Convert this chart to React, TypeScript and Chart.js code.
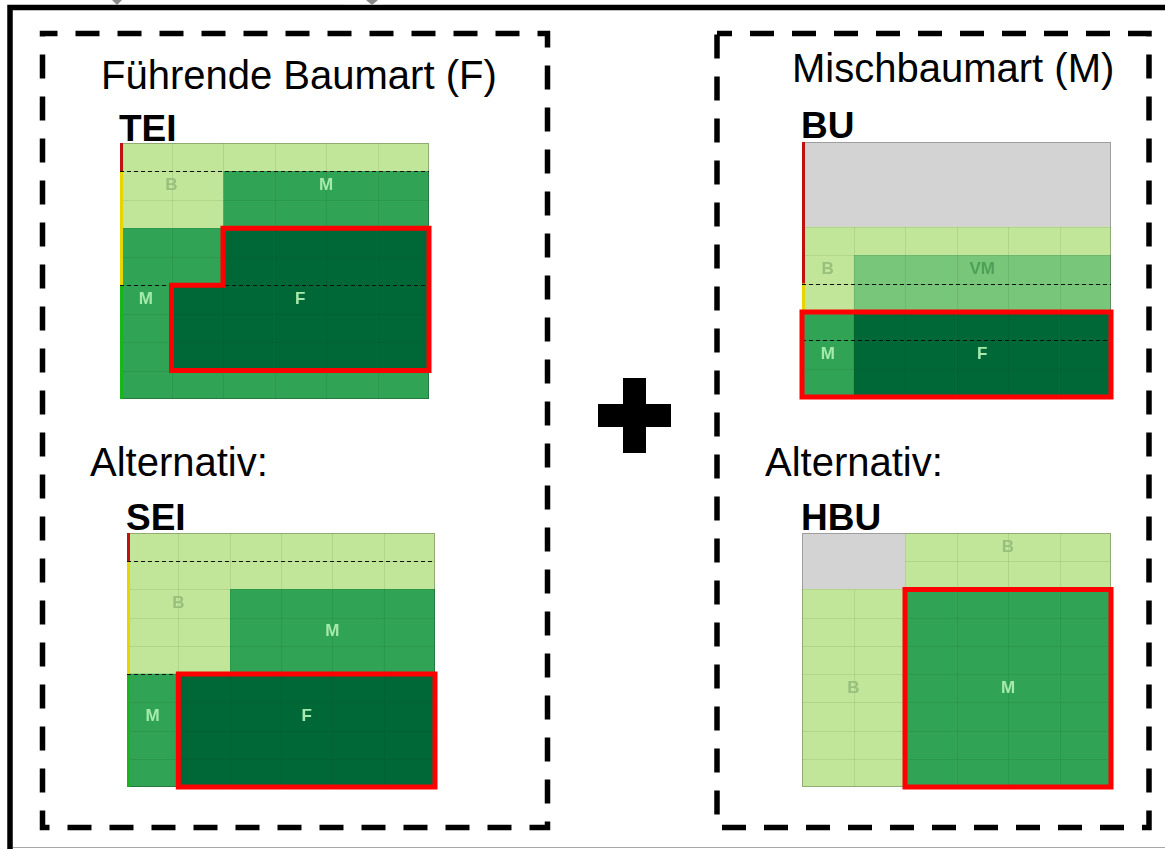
import React, { useEffect, useRef } from 'react';
import { Chart, registerables } from 'chart.js';

Chart.register(...registerables);

// ---------- data ----------
const ROW_LABELS = ['1', '2', '3', '4', '5', '6', '7', '8', '9'];
const COLUMN_LABELS = ['c1', 'c2', 'c3', 'c4', 'c5', 'c6'];
const CELL_UNITS = [1, 1, 1, 1, 1, 1, 1, 1, 1];

// cell codes: B = Begleitbaumart, M = Mischbaumart, F = führend, V = VM, G = leer
const TEI_GRID = ['BBBBBB', 'BBMMMM', 'BBMMMM', 'MMFFFF', 'MMFFFF', 'MFFFFF', 'MFFFFF', 'MFFFFF', 'MMMMMM'];
const SEI_GRID = ['BBBBBB', 'BBBBBB', 'BBMMMM', 'BBMMMM', 'BBMMMM', 'MFFFFF', 'MFFFFF', 'MFFFFF', 'MFFFFF'];
const BU_GRID = ['GGGGGG', 'GGGGGG', 'GGGGGG', 'BBBBBB', 'BVVVVV', 'BVVVVV', 'MFFFFF', 'MFFFFF', 'MFFFFF'];
const HBU_GRID = ['GGBBBB', 'GGBBBB', 'BBMMMM', 'BBMMMM', 'BBMMMM', 'BBMMMM', 'BBMMMM', 'BBMMMM', 'BBMMMM'];

const TEI_LABELS = [
  { text: 'B', col: 1, row: 1 },
  { text: 'M', col: 4, row: 1 },
  { text: 'M', col: 0.5, row: 5 },
  { text: 'F', col: 3.5, row: 5 },
];
const SEI_LABELS = [
  { text: 'B', col: 1, row: 2 },
  { text: 'M', col: 4, row: 3 },
  { text: 'M', col: 0.5, row: 6 },
  { text: 'F', col: 3.5, row: 6 },
];
const BU_LABELS = [
  { text: 'B', col: 0.5, row: 4 },
  { text: 'VM', col: 3.5, row: 4 },
  { text: 'M', col: 0.5, row: 7 },
  { text: 'F', col: 3.5, row: 7 },
];
const HBU_LABELS = [
  { text: 'B', col: 4, row: 0 },
  { text: 'B', col: 1, row: 5 },
  { text: 'M', col: 4, row: 5 },
];

const TEI_DASH_ROWS = [1, 5];
const SEI_DASH_ROWS = [1, 5];
const BU_DASH_ROWS = [5, 7];
const HBU_DASH_ROWS: number[] = [];

const TEI_SIDE = [
  { from: 0, to: 1, code: 'red' },
  { from: 1, to: 5, code: 'yellow' },
  { from: 5, to: 9, code: 'green' },
];
const SEI_SIDE = [
  { from: 0, to: 1, code: 'red' },
  { from: 1, to: 5, code: 'yellow' },
  { from: 5, to: 9, code: 'green' },
];
const BU_SIDE = [
  { from: 0, to: 5, code: 'red' },
  { from: 5, to: 6, code: 'yellow' },
];
const HBU_SIDE: { from: number; to: number; code: string }[] = [];

// outline corners as [column edge, row edge]
const TEI_OUTLINE = [[2, 3], [6, 3], [6, 8], [1, 8], [1, 5], [2, 5]];
const SEI_OUTLINE = [[1, 5], [6, 5], [6, 9], [1, 9]];
const BU_OUTLINE = [[0, 6], [6, 6], [6, 9], [0, 9]];
const HBU_OUTLINE = [[2, 2], [6, 2], [6, 9], [2, 9]];

// ---------- styles ----------
const COLORS: Record<string, string> = { B: '#c2e699', V: '#78c679', M: '#31a354', F: '#006837', G: '#d3d3d3' };
const LABEL_COLORS: Record<string, string> = { B: '#98bf7d', M: '#a6eaab', F: '#a6eaab', VM: '#4e9f58' };
const SIDE_COLORS: Record<string, string> = { red: '#c01010', yellow: '#e6d500', green: '#19b619' };

const PAD = 8;

type Spec = {
  grid: string[];
  labels: { text: string; col: number; row: number }[];
  dashRows: number[];
  side: { from: number; to: number; code: string }[];
  outline: number[][];
  box: { x: number; y: number; w: number; h: number };
};

const PANELS: Spec[] = [
  { grid: TEI_GRID, labels: TEI_LABELS, dashRows: TEI_DASH_ROWS, side: TEI_SIDE, outline: TEI_OUTLINE, box: { x: 120, y: 143, w: 309, h: 256 } },
  { grid: SEI_GRID, labels: SEI_LABELS, dashRows: SEI_DASH_ROWS, side: SEI_SIDE, outline: SEI_OUTLINE, box: { x: 127, y: 533, w: 308, h: 254 } },
  { grid: BU_GRID, labels: BU_LABELS, dashRows: BU_DASH_ROWS, side: BU_SIDE, outline: BU_OUTLINE, box: { x: 802, y: 142, w: 309, h: 255 } },
  { grid: HBU_GRID, labels: HBU_LABELS, dashRows: HBU_DASH_ROWS, side: HBU_SIDE, outline: HBU_OUTLINE, box: { x: 802, y: 533, w: 309, h: 254 } },
];

function Panel({ spec }: { spec: Spec }) {
  const ref = useRef<HTMLCanvasElement | null>(null);
  useEffect(() => {
    if (!ref.current) return;
    const grid = spec.grid;
    const datasets = COLUMN_LABELS.map((name, c) => ({
      label: name,
      data: CELL_UNITS.slice(),
      backgroundColor: grid.map((row) => COLORS[row[c]]),
      borderWidth: 0,
      barPercentage: 1,
      categoryPercentage: 1,
    }));
    const overlay = {
      id: 'overlay',
      afterDatasetsDraw(chart: any) {
        const { ctx, chartArea: a } = chart;
        const x = chart.scales.x;
        const y = chart.scales.y;
        const xp = (c: number) => x.getPixelForValue(c);
        const yEdge = (r: number) => y.getPixelForValue(r - 0.5);
        const isG = (r: number, c: number) => grid[r][c] === 'G';
        ctx.save();
        // faint cell lines (not inside empty grey area)
        ctx.strokeStyle = 'rgba(0,40,0,0.09)';
        ctx.lineWidth = 1;
        ctx.beginPath();
        for (let r = 0; r < grid.length; r++) {
          for (let c = 1; c < 6; c++) {
            if (isG(r, c - 1) && isG(r, c)) continue;
            const xx = Math.round(xp(c)) + 0.5;
            ctx.moveTo(xx, yEdge(r));
            ctx.lineTo(xx, yEdge(r + 1));
          }
        }
        for (let r = 1; r < grid.length; r++) {
          for (let c = 0; c < 6; c++) {
            if (isG(r - 1, c) && isG(r, c)) continue;
            const yy = Math.round(yEdge(r)) + 0.5;
            ctx.moveTo(xp(c), yy);
            ctx.lineTo(xp(c + 1), yy);
          }
        }
        ctx.stroke();
        // outer border
        ctx.strokeStyle = 'rgba(0,0,0,0.25)';
        ctx.strokeRect(a.left + 0.5, a.top + 0.5, a.width - 1, a.height - 1);
        spec.side.forEach((s) => {
          ctx.fillStyle = SIDE_COLORS[s.code];
          ctx.fillRect(a.left, yEdge(s.from), 3, yEdge(s.to) - yEdge(s.from));
        });
        ctx.setLineDash([4, 3]);
        ctx.strokeStyle = '#111';
        ctx.lineWidth = 1;
        spec.dashRows.forEach((r) => {
          const yy = Math.round(yEdge(r)) + 0.5;
          ctx.beginPath();
          ctx.moveTo(a.left, yy);
          ctx.lineTo(a.right, yy);
          ctx.stroke();
        });
        ctx.setLineDash([]);
        ctx.font = 'bold 17px "Liberation Sans", Arial, sans-serif';
        ctx.textAlign = 'center';
        ctx.textBaseline = 'middle';
        spec.labels.forEach((l) => {
          ctx.fillStyle = LABEL_COLORS[l.text];
          ctx.fillText(l.text, xp(l.col), y.getPixelForValue(l.row));
        });
        ctx.strokeStyle = '#ff0000';
        ctx.lineWidth = 5;
        ctx.lineJoin = 'miter';
        ctx.beginPath();
        spec.outline.forEach(([c, r], i) => {
          if (i === 0) ctx.moveTo(xp(c), yEdge(r));
          else ctx.lineTo(xp(c), yEdge(r));
        });
        ctx.closePath();
        ctx.stroke();
        ctx.restore();
      },
    };
    const chart = new Chart(ref.current, {
      type: 'bar',
      data: { labels: ROW_LABELS, datasets: datasets as any },
      options: {
        animation: false,
        responsive: false,
        devicePixelRatio: 1,
        indexAxis: 'y',
        events: [],
        layout: { padding: PAD },
        plugins: { legend: { display: false }, tooltip: { enabled: false } },
        scales: {
          x: { type: 'linear', stacked: true, min: 0, max: 6, display: false },
          y: { type: 'category', stacked: true, display: false, offset: true },
        },
      },
      plugins: [overlay],
    });
    return () => chart.destroy();
  }, [spec]);
  const { x, y, w, h } = spec.box;
  return (
    <div style={{ position: 'absolute', left: x - PAD, top: y - PAD, width: w + 2 * PAD, height: h + 2 * PAD }}>
      <canvas ref={ref} width={w + 2 * PAD} height={h + 2 * PAD} style={{ display: 'block' }} />
    </div>
  );
}

const TITLE_FONT = '"Liberation Sans", Arial, sans-serif';

export default function App() {
  return (
    <div style={{ position: 'fixed', left: 0, top: 0, width: 1165, height: 849, background: '#fff', overflow: 'hidden' }}>
      <svg width={1165} height={849} style={{ position: 'absolute', left: 0, top: 0 }}>
        <rect x={10} y={7.5} width={1300} height={1000} fill="none" stroke="#000" strokeWidth={5.5} />
        <line x1={13} y1={847.5} x2={1165} y2={847.5} stroke="#a8a8a8" strokeWidth={1} />
        <polygon points="112,0 122,0 117,5" fill="#8a8a8a" />
        <line x1={343} y1={4.5} x2={385} y2={4.5} stroke="#c8c8c8" strokeWidth={1} />
        <polygon points="366,0 378,0 372,5" fill="#8a8a8a" />
        <path d="M42.5,33.5 H547.5 V827.5 H42.5 Z" fill="none" stroke="#000" strokeWidth={5.5} strokeDasharray="24 18" strokeDashoffset={9} />
        <path d="M717,33.5 H1149 V827.5 H717 Z" fill="none" stroke="#000" strokeWidth={5.5} strokeDasharray="24 18" strokeDashoffset={9} />
        <rect x={623} y={378} width={23} height={75} fill="#000" />
        <rect x={598} y={404} width={73} height={23} fill="#000" />
        <g fontFamily={TITLE_FONT} fill="#000">
          <text x={101} y={89} fontSize={40}>Führende Baumart (F)</text>
          <text x={792} y={82} fontSize={40}>Mischbaumart (M)</text>
          <text x={90} y={476} fontSize={40}>Alternativ:</text>
          <text x={765} y={476} fontSize={40}>Alternativ:</text>
          <text x={119} y={141} fontSize={37} fontWeight="bold">TEI</text>
          <text x={126} y={530} fontSize={37} fontWeight="bold">SEI</text>
          <text x={801} y={138} fontSize={37} fontWeight="bold">BU</text>
          <text x={801} y={530} fontSize={37} fontWeight="bold">HBU</text>
        </g>
      </svg>
      {PANELS.map((p, i) => (
        <Panel key={i} spec={p} />
      ))}
    </div>
  );
}
